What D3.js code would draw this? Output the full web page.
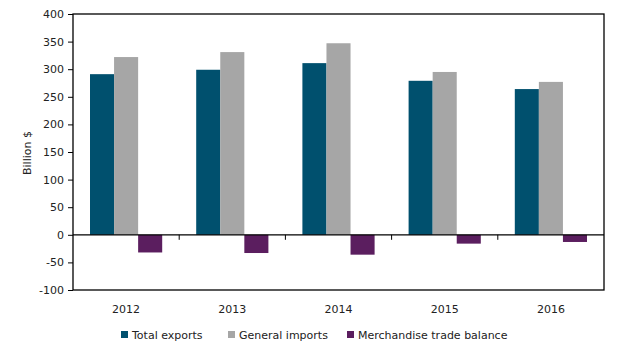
<!DOCTYPE html>
<html><head><meta charset="utf-8">
<script src="https://cdn.jsdelivr.net/npm/d3@7"></script>
<style>body{margin:0;background:#fff}svg{display:block}text{font-family:"DejaVu Sans",Verdana,sans-serif;fill:#222}</style>
</head><body><svg id="c" width="619" height="356"></svg>
<script>
const years = ["2012","2013","2014","2015","2016"];
const seriesNames = ["Total exports","General imports","Merchandise trade balance"];
const exportsVals = [291, 299, 311, 279, 264];
const importsVals = [322, 331, 347, 295, 277];
const balanceVals = [-32, -33, -36, -16, -13];
const yTicks = [400,350,300,250,200,150,100,50,0,-50,-100];
const colors = ["#00506E","#A6A6A6","#5B1E5F"];

const svg = d3.select("#c");
const L=73, R=604, T=14, B=290;
const x = d3.scaleBand().domain(years).range([L,R]).padding(0);
const bw = x.bandwidth();
const xs = d3.scaleBand().domain(seriesNames).range([17, bw-17]).padding(0);
const y = d3.scaleLinear().domain([-100,400]).range([B,T]);
const seriesVals = [exportsVals, importsVals, balanceVals];
const FS = "11px";

seriesNames.forEach((s,si)=>{
  svg.append("g").selectAll("rect").data(years).join("rect")
    .attr("x", d=>x(d)+xs(s))
    .attr("width", xs.bandwidth())
    .attr("y", (d,i)=>y(Math.max(0,seriesVals[si][i])))
    .attr("height", (d,i)=>Math.abs(y(seriesVals[si][i])-y(0)))
    .attr("fill", colors[si]);
});

// frame
svg.append("rect").attr("x",L).attr("y",T).attr("width",R-L).attr("height",B-T)
  .attr("fill","none").attr("stroke","#000").attr("stroke-width",1.3);

// y axis
const ya = svg.append("g").attr("transform",`translate(${L},0)`)
  .call(d3.axisLeft(y).tickValues(yTicks).tickSize(5).tickPadding(4).tickFormat(d=>String(d)));
ya.select(".domain").remove();
ya.selectAll("line").attr("stroke","#000");
ya.selectAll("text").attr("font-size",FS).attr("fill","#222").style("font-family","DejaVu Sans");

// zero line with category ticks
svg.append("line").attr("x1",L).attr("x2",R).attr("y1",y(0)).attr("y2",y(0)).attr("stroke","#000").attr("stroke-width",1.3);
svg.append("g").selectAll("line").data(years.slice(1)).join("line")
  .attr("x1",d=>x(d)).attr("x2",d=>x(d)).attr("y1",y(0)).attr("y2",y(0)+5).attr("stroke","#000");

// category labels
svg.append("g").selectAll("text").data(years).join("text")
  .attr("x",d=>x(d)+bw/2).attr("y",313).attr("text-anchor","middle").attr("font-size",FS).text(d=>d);

// y title
svg.append("text").attr("transform","translate(31,153) rotate(-90)").attr("text-anchor","middle")
  .attr("font-size",FS).text("Billion $");

// legend
const legX = [121, 228, 347];
const lg = svg.append("g").selectAll("g").data(seriesNames).join("g")
  .attr("transform",(d,i)=>`translate(${legX[i]},335)`);
lg.append("rect").attr("x",0).attr("y",-4).attr("width",7).attr("height",7).attr("fill",(d,i)=>colors[i]);
lg.append("text").attr("x",11).attr("y",4).attr("font-size",FS).text(d=>d);
</script></body></html>
